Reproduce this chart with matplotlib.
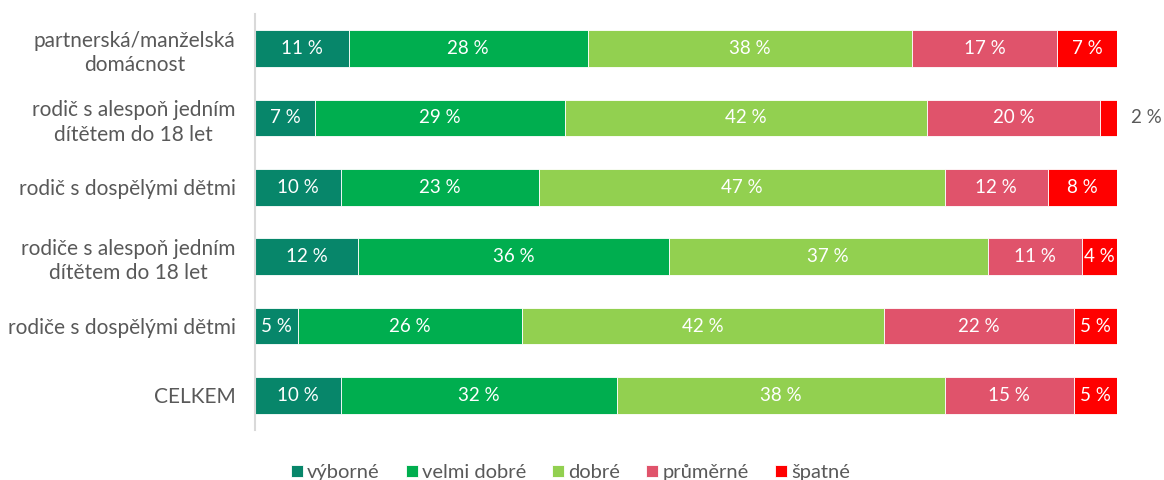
import numpy as np
import matplotlib.pyplot as plt

# --- data ---
categories = [
    "partnerská/manželská\ndomácnost",
    "rodič s alespoň jedním\ndítětem do 18 let",
    "rodič s dospělými dětmi",
    "rodiče s alespoň jedním\ndítětem do 18 let",
    "rodiče s dospělými dětmi",
    "CELKEM",
]
series_names = ["výborné", "velmi dobré", "dobré", "průměrné", "špatné"]
vyborne = [11, 7, 10, 12, 5, 10]
velmi_dobre = [28, 29, 23, 36, 26, 32]
dobre = [38, 42, 47, 37, 42, 38]
prumerne = [17, 20, 12, 11, 22, 15]
spatne = [7, 2, 8, 4, 5, 5]

colors = ["#07866A", "#00AE4F", "#92D050", "#E0536B", "#FF0000"]
text_grey = "#595959"

plt.rcParams['font.family'] = ['Lato', 'DejaVu Sans']

values = np.array([vyborne, velmi_dobre, dobre, prumerne, spatne], dtype=float)
shares = values / values.sum(axis=0) * 100  # bars always fill 100 %

fig = plt.figure(figsize=(11.64, 4.8), dpi=100)
ax = fig.add_axes([0.219, 0.104, 0.7406, 0.867])

y = np.arange(len(categories))
left = np.zeros(len(categories))
for i, name in enumerate(series_names):
    bars = ax.barh(y, shares[i], left=left, height=0.53, color=colors[i],
                   edgecolor="white", linewidth=0.6, label=name)
    for j, b in enumerate(bars):
        v = int(values[i, j])
        if shares[i, j] < 3:
            # too narrow, label goes outside the bar
            ax.text(100 + 1.6, y[j], f"{v} %", ha="left", va="center",
                    color=text_grey, fontsize=13.5)
        else:
            ax.text(left[j] + shares[i, j] / 2, y[j], f"{v} %", ha="center",
                    va="center", color="white", fontsize=13.5)
    left += shares[i]

ax.set_xlim(0, 100)
ax.set_ylim(len(categories) - 0.5, -0.5)
ax.set_yticks(y)
ax.set_yticklabels(categories, fontsize=15, color=text_grey, multialignment="center",
                   linespacing=1.3)
ax.tick_params(axis="y", length=0, pad=14)
ax.set_xticks([])
for s in ["top", "right", "bottom"]:
    ax.spines[s].set_visible(False)
ax.spines["left"].set_color("#D9D9D9")
ax.spines["left"].set_linewidth(1.5)

leg = fig.legend(loc="lower center", bbox_to_anchor=(0.49, -0.04), ncol=5,
                 frameon=False, fontsize=14.5, handlelength=0.6, handleheight=0.6,
                 handletextpad=0.2, columnspacing=1.3)
for t in leg.get_texts():
    t.set_color(text_grey)

fig.savefig("out.png", dpi=100)
